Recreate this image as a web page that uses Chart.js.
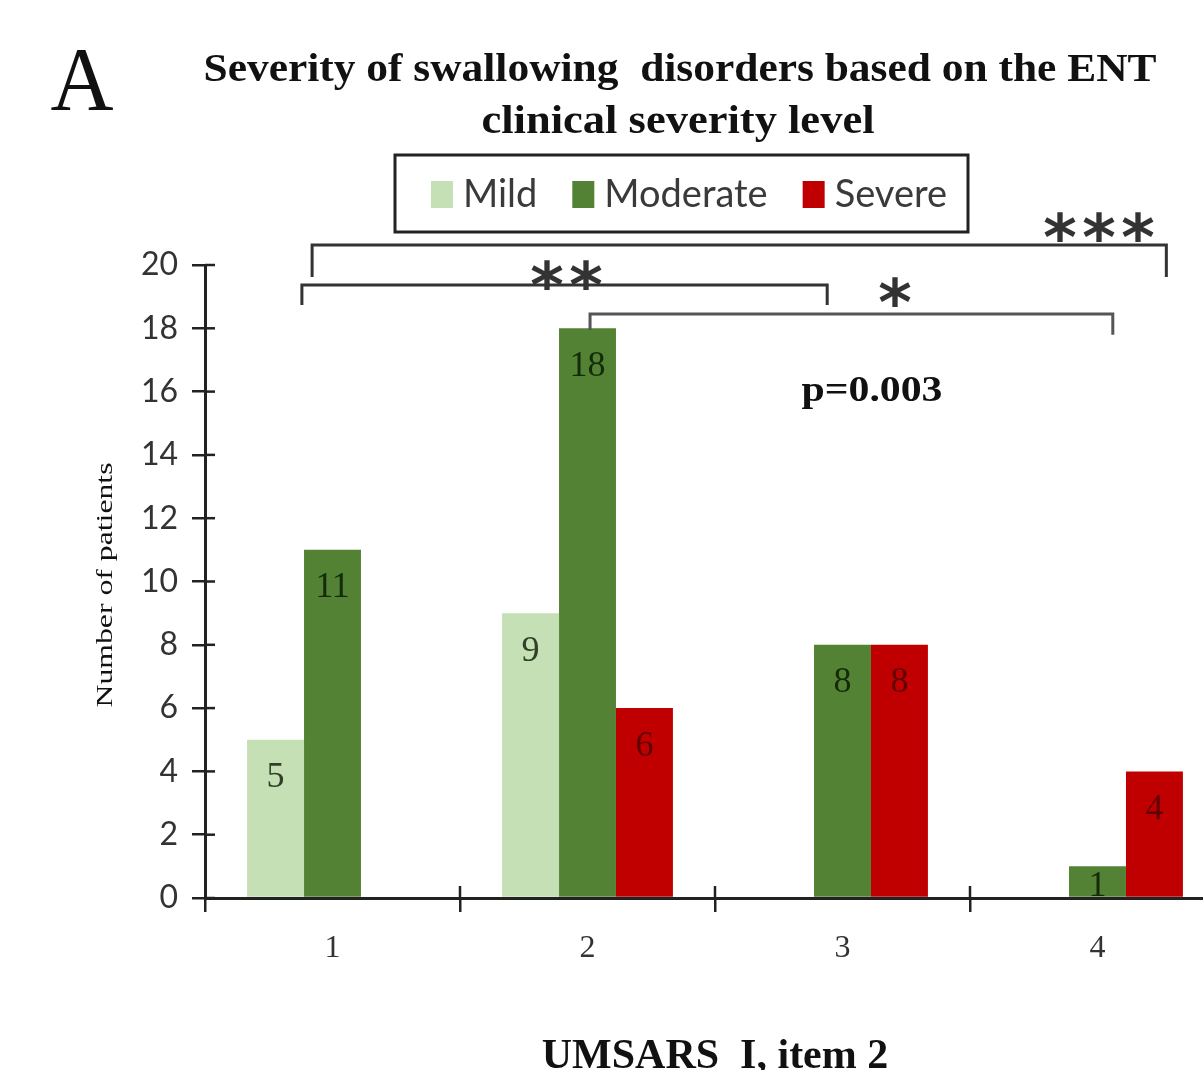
<!DOCTYPE html>
<html>
<head>
<meta charset="utf-8">
<title>Severity of swallowing disorders</title>
<script src="https://cdn.jsdelivr.net/npm/chart.js@4.4.1/dist/chart.umd.min.js"></script>
<style>
    html, body { margin: 0; padding: 0; overflow: hidden; background: #fff; }
    canvas { display: block; }
</style>
</head>
<body>
<canvas id="barChart" width="1230" height="1070"></canvas>
<script>
//chart data
var categories = ["1", "2", "3", "4"];
var seriesNames = ["Mild", "Moderate", "Severe"];
var mildData = [5, 9, 0, 0];
var moderateData = [11, 18, 8, 1];
var severeData = [0, 6, 8, 4];
var yTickValues = [0, 2, 4, 6, 8, 10, 12, 14, 16, 18, 20];

var SERIF = "'Liberation Serif', 'Times New Roman', serif";
var SANS = "Lato, 'Liberation Sans', sans-serif";
var barColors = ["#c5e0b4", "#548235", "#c00000"];
var labelColors = ["#334029", "#132b07", "#5e0000"];
var ink = "#222";

// draw text squeezed/stretched to a given width
function fitText(ctx, text, cx, y, width, rotate) {
    var w = ctx.measureText(text).width;
    ctx.save();
    ctx.translate(cx, y);
    if (rotate) ctx.rotate(rotate);
    ctx.scale(width / w, 1);
    ctx.textAlign = "center";
    ctx.fillText(text, 0, 0);
    ctx.restore();
}

// significance brackets, in axis units (x = category index, y = patients)
var brackets = [
    { x0: -0.08, x1: 3.27, y: 20.63, leg0: 19.62, leg1: 19.62, stars: 3, sx: 3.006, sy: 21.2, color: "#333" },
    { x0: -0.12, x1: 1.94, y: 19.37, leg0: 18.74, leg1: 18.74, stars: 2, sx: 0.918, sy: 19.68, color: "#333" },
    { x0: 1.01, x1: 3.06, y: 18.45, leg0: 17.95, leg1: 17.8, stars: 1, sx: 2.206, sy: 19.12, color: "#555" }
];

var decorations = {
    id: "decorations",
    afterDatasetsDraw: function (chart) {
        //value labels inside the bars
        var ctx = chart.ctx;
        ctx.save();
        ctx.font = "36px " + SERIF;
        ctx.textAlign = "center";
        ctx.textBaseline = "middle";
        chart.data.datasets.forEach(function (ds, i) {
            var meta = chart.getDatasetMeta(i);
            meta.data.forEach(function (bar, j) {
                var v = ds.data[j];
                if (!v) return;
                var h = bar.base - bar.y;
                ctx.fillStyle = labelColors[i];
                ctx.fillText(String(v), bar.x, bar.y + Math.min(38, h * 0.68));
            });
        });
        ctx.restore();
    },
    afterDraw: function (chart) {
        var ctx = chart.ctx;
        var xs = chart.scales.x, ys = chart.scales.y;
        var area = chart.chartArea;
        ctx.save();

        //tick marks crossing the axes
        ctx.strokeStyle = ink;
        ctx.lineWidth = 2.5;
        ys.ticks.forEach(function (t) {
            var py = ys.getPixelForValue(t.value);
            ctx.beginPath();
            ctx.moveTo(area.left, py);
            ctx.lineTo(area.left + 10, py);
            ctx.stroke();
        });
        for (var i = 1; i <= categories.length; i++) {
            var px = xs.getPixelForValue(i - 0.5);
            ctx.beginPath();
            ctx.moveTo(px, area.bottom);
            ctx.lineTo(px, area.bottom - 12);
            ctx.stroke();
        }

        //panel letter and title
        ctx.fillStyle = "#111";
        ctx.textBaseline = "alphabetic";
        ctx.font = "90px " + SERIF;
        fitText(ctx, "A", 82, 110, 63);
        ctx.font = "bold 41px " + SERIF;
        fitText(ctx, "Severity of swallowing  disorders based on the ENT", 680, 81, 953);
        fitText(ctx, "clinical severity level", 678, 133, 393);

        //y axis title
        ctx.fillStyle = "#111";
        ctx.font = "24px " + SERIF;
        ctx.textBaseline = "middle";
        fitText(ctx, "Number of patients", 106, 585, 245, -Math.PI / 2);

        //legend with frame
        ctx.strokeStyle = ink;
        ctx.lineWidth = 3;
        ctx.strokeRect(395, 155, 573, 77);
        ctx.font = "38px " + SANS;
        ctx.textBaseline = "alphabetic";
        ctx.textAlign = "left";
        var total = 0;
        var widths = chart.data.datasets.map(function (ds) {
            var w = ctx.measureText(ds.label).width;
            total += 22 + 10 + w;
            return w;
        });
        total += 35 * (widths.length - 1);
        var lx = 689 - total / 2;
        chart.data.datasets.forEach(function (ds, i) {
            ctx.fillStyle = ds.backgroundColor;
            ctx.fillRect(lx, 181, 22, 27);
            ctx.fillStyle = "#3a3a3a";
            ctx.fillText(ds.label, lx + 32, 207);
            lx += 22 + 10 + widths[i] + 35;
        });

        //significance brackets
        ctx.textAlign = "center";
        ctx.textBaseline = "middle";
        ctx.font = "bold 64px 'DejaVu Sans', sans-serif";
        brackets.forEach(function (b) {
            var x0 = xs.getPixelForValue(b.x0), x1 = xs.getPixelForValue(b.x1);
            var y = ys.getPixelForValue(b.y);
            ctx.strokeStyle = b.color;
            ctx.lineWidth = 3;
            ctx.beginPath();
            ctx.moveTo(x0, ys.getPixelForValue(b.leg0));
            ctx.lineTo(x0, y);
            ctx.lineTo(x1, y);
            ctx.lineTo(x1, ys.getPixelForValue(b.leg1));
            ctx.stroke();
            ctx.fillStyle = "#333";
            var cx = xs.getPixelForValue(b.sx), cy = ys.getPixelForValue(b.sy);
            for (var k = 0; k < b.stars; k++) {
                ctx.fillText("*", cx + (k - (b.stars - 1) / 2) * 39, cy + 16);
            }
        });

        //p value
        ctx.fillStyle = "#111";
        ctx.font = "bold 36px " + SERIF;
        ctx.textBaseline = "alphabetic";
        fitText(ctx, "p=0.003", 872, 401, 141);

        ctx.restore();
    }
};

function createChart() {
    var ctx = document.getElementById("barChart").getContext("2d");
    var seriesData = [mildData, moderateData, severeData];

    var barData = {
        labels: categories,
        datasets: seriesNames.map(function (name, i) {
            return {
                label: name,
                data: seriesData[i],
                backgroundColor: barColors[i],
                borderWidth: 0,
                categoryPercentage: 0.67,
                barPercentage: 1.0
            };
        })
    };

    var myBarChart = new Chart(ctx, {
        type: "bar",
        data: barData,
        options: {
            responsive: false,
            animation: false,
            layout: { padding: { top: 265, right: 5, bottom: 0, left: 0 } },
            plugins: {
                legend: { display: false },
                title: { display: false },
                tooltip: { enabled: false }
            },
            scales: {
                x: {
                    offset: true,
                    grid: { drawOnChartArea: false, tickLength: 14, color: ink, lineWidth: 2.5, offset: true },
                    border: { color: ink, width: 3 },
                    ticks: { color: "#333", padding: 17, font: { family: SERIF, size: 32 } },
                    title: {
                        display: true,
                        text: "UMSARS  I, item 2",
                        color: "#111",
                        padding: 0,
                        font: { family: SERIF, size: 42, weight: "bold", lineHeight: 0.6 }
                    },
                    afterFit: function (scale) { scale.height = 172; }
                },
                y: {
                    min: 0,
                    max: 20,
                    grid: { drawOnChartArea: false, tickLength: 13, color: ink, lineWidth: 2.5 },
                    border: { color: ink, width: 3 },
                    ticks: { color: "#333", padding: 14, font: { family: SANS, size: 32 } },
                    afterBuildTicks: function (scale) {
                        scale.ticks = yTickValues.map(function (v) { return { value: v }; });
                    },
                    afterFit: function (scale) { scale.width = 205; }
                }
            }
        },
        plugins: [decorations]
    });
}

createChart();
</script>
</body>
</html>
